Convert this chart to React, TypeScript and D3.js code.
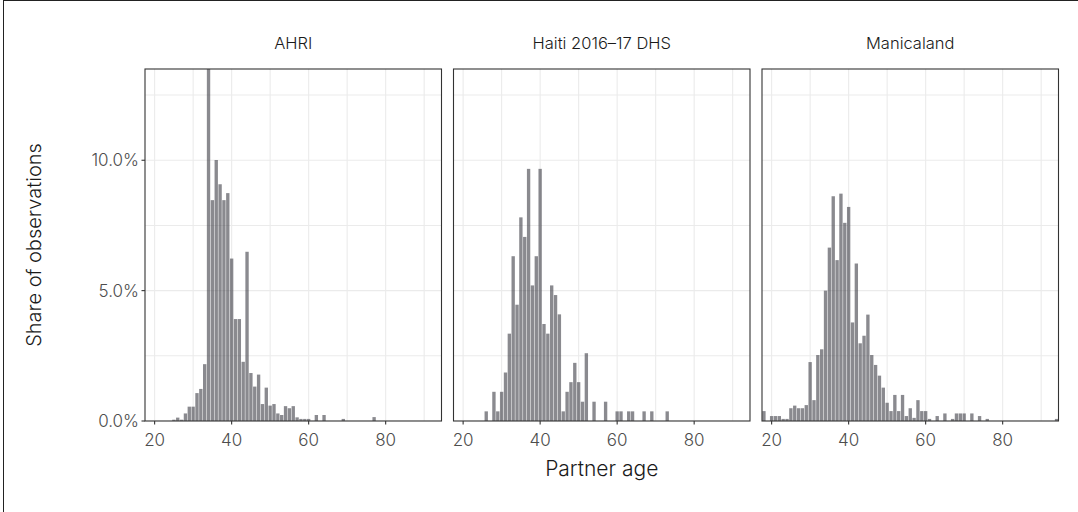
import React from "react";
import * as d3 from "d3";

const ahriAge = [25, 26, 27, 28, 29, 30, 31, 32, 33, 34, 35, 36, 37, 38, 39, 40, 41, 42, 43, 44, 45, 46, 47, 48, 49, 50, 51, 52, 53, 54, 55, 56, 57, 58, 59, 60, 62, 64, 69, 77];
const ahriShare = [0.05, 0.13, 0.05, 0.29, 0.55, 0.55, 1.07, 1.23, 2.18, 14.2, 8.47, 10.01, 9.08, 8.47, 8.74, 6.23, 3.91, 3.91, 2.27, 6.49, 1.84, 1.32, 1.78, 0.65, 1.28, 0.59, 0.65, 0.29, 0.23, 0.57, 0.49, 0.57, 0.14, 0.08, 0.08, 0.08, 0.23, 0.23, 0.08, 0.15];

const haitiAge = [26, 28, 29, 30, 31, 32, 33, 34, 35, 36, 37, 38, 39, 40, 41, 42, 43, 44, 45, 46, 47, 48, 49, 50, 51, 52, 54, 57, 60, 61, 63, 64, 67, 69, 73];
const haitiShare = [0.37, 1.12, 0.37, 1.12, 1.86, 3.35, 6.32, 4.46, 7.81, 7.06, 9.67, 5.2, 6.32, 9.67, 3.72, 3.35, 5.2, 4.83, 4.09, 0.37, 1.12, 1.49, 2.23, 1.49, 0.74, 2.6, 0.74, 0.74, 0.37, 0.37, 0.37, 0.37, 0.37, 0.37, 0.37];

const manicaAge = [18, 20, 21, 22, 23, 24, 25, 26, 27, 28, 29, 30, 31, 32, 33, 34, 35, 36, 37, 38, 39, 40, 41, 42, 43, 44, 45, 46, 47, 48, 49, 50, 51, 52, 53, 54, 55, 56, 57, 58, 59, 60, 61, 63, 65, 67, 68, 69, 70, 72, 74, 76, 94];
const manicaShare = [0.38, 0.19, 0.19, 0.19, 0.08, 0.08, 0.49, 0.59, 0.49, 0.49, 0.61, 2.26, 0.8, 2.53, 2.75, 5.0, 6.65, 8.62, 6.17, 8.72, 7.6, 8.21, 3.78, 6.04, 2.98, 3.27, 4.08, 2.53, 2.15, 1.74, 1.28, 0.7, 0.38, 1.0, 0.38, 1.0, 0.19, 0.49, 0.12, 0.8, 0.38, 0.38, 0.08, 0.19, 0.29, 0.08, 0.29, 0.29, 0.29, 0.29, 0.19, 0.08, 0.08];

const panelNames = ["AHRI", "Haiti 2016\u201317 DHS", "Manicaland"];
const xTicks = [20, 40, 60, 80];
const xMinor = [30, 50, 70, 90];
const yTicks = [0, 5, 10];
const yMinor = [2.5, 7.5, 12.5];

const W = 1078;
const H = 512;
const top = 69;
const bottom = 421;
const panelW = 296.5;
const gap = 12;
const left0 = 145;
const font = "Inter, Lato, sans-serif";

const x = d3.scaleLinear().domain([17.5, 94.5]).range([0, panelW]);
const y = d3.scaleLinear().domain([0, 13.5]).range([bottom, top]);

const Panel = ({ idx, ages, shares }: { idx: number; ages: number[]; shares: number[] }) => {
  const left = left0 + idx * (panelW + gap);
  const bw = x(1) - x(0);
  return (
    <g transform={`translate(${left},0)`}>
      <defs>
        <clipPath id={`clip${idx}`}>
          <rect x={0} y={top} width={panelW} height={bottom - top} />
        </clipPath>
      </defs>
      <rect x={0} y={top} width={panelW} height={bottom - top} fill="#fff" />
      <g clipPath={`url(#clip${idx})`}>
        {yMinor.concat(yTicks).map((v) => (
          <line key={"h" + v} x1={0} x2={panelW} y1={y(v)} y2={y(v)} stroke="#ebebeb" strokeWidth={1.1} />
        ))}
        {xMinor.concat(xTicks).map((v) => (
          <line key={"v" + v} x1={x(v)} x2={x(v)} y1={top} y2={bottom} stroke="#ebebeb" strokeWidth={1.1} />
        ))}
        {ages.map((a, i) => (
          <rect
            key={a}
            x={x(a - 0.5) + 0.25}
            width={bw - 0.5}
            y={y(shares[i])}
            height={bottom - y(shares[i])}
            fill="#3c3c44"
            fillOpacity={0.6}
          />
        ))}
      </g>
      <rect x={0} y={top} width={panelW} height={bottom - top} fill="none" stroke="#333" strokeWidth={1.1} />
      {xTicks.map((v) => (
        <g key={v}>
          <line x1={x(v)} x2={x(v)} y1={bottom} y2={bottom + 3.5} stroke="#333" strokeWidth={1.1} />
          <text x={x(v)} y={446} textAnchor="middle" fontSize={17} fontWeight={300} fill="#4d4d4d" fontFamily={font}>
            {v}
          </text>
        </g>
      ))}
      <text x={panelW / 2} y={43} textAnchor="middle" dominantBaseline="central" fontSize={16.5} fontWeight={300} fill="#1a1a1a" fontFamily={font}>
        {panelNames[idx]}
      </text>
    </g>
  );
};

export default function App() {
  const fmt = d3.format(".1f");
  const centerX = left0 + (3 * panelW + 2 * gap) / 2;
  return (
    <div style={{ position: "absolute", left: 0, top: 0 }}>
      <svg width={W} height={H} style={{ display: "block", background: "#fff" }}>
        <line x1={3} x2={W} y1={0.5} y2={0.5} stroke="#222" strokeWidth={1} />
        <line x1={3.5} x2={3.5} y1={0} y2={H} stroke="#222" strokeWidth={1} />
        <Panel idx={0} ages={ahriAge} shares={ahriShare} />
        <Panel idx={1} ages={haitiAge} shares={haitiShare} />
        <Panel idx={2} ages={manicaAge} shares={manicaShare} />
        {yTicks.map((v) => (
          <g key={v}>
            <line x1={left0 - 3.5} x2={left0} y1={y(v)} y2={y(v)} stroke="#333" strokeWidth={1.1} />
            <text x={left0 - 6} y={y(v)} textAnchor="end" dominantBaseline="central" fontSize={17} fontWeight={300} fill="#4d4d4d" fontFamily={font}>
              {fmt(v)}%
            </text>
          </g>
        ))}
        <text
          transform={`translate(34,${(top + bottom) / 2}) rotate(-90)`}
          textAnchor="middle"
          dominantBaseline="central"
          fontSize={20}
          fontWeight={300}
          fill="#1a1a1a"
          fontFamily={font}
        >
          Share of observations
        </text>
        <text x={centerX} y={476} textAnchor="middle" fontSize={21} fontWeight={300} fill="#1a1a1a" fontFamily={font}>
          Partner age
        </text>
      </svg>
    </div>
  );
}
